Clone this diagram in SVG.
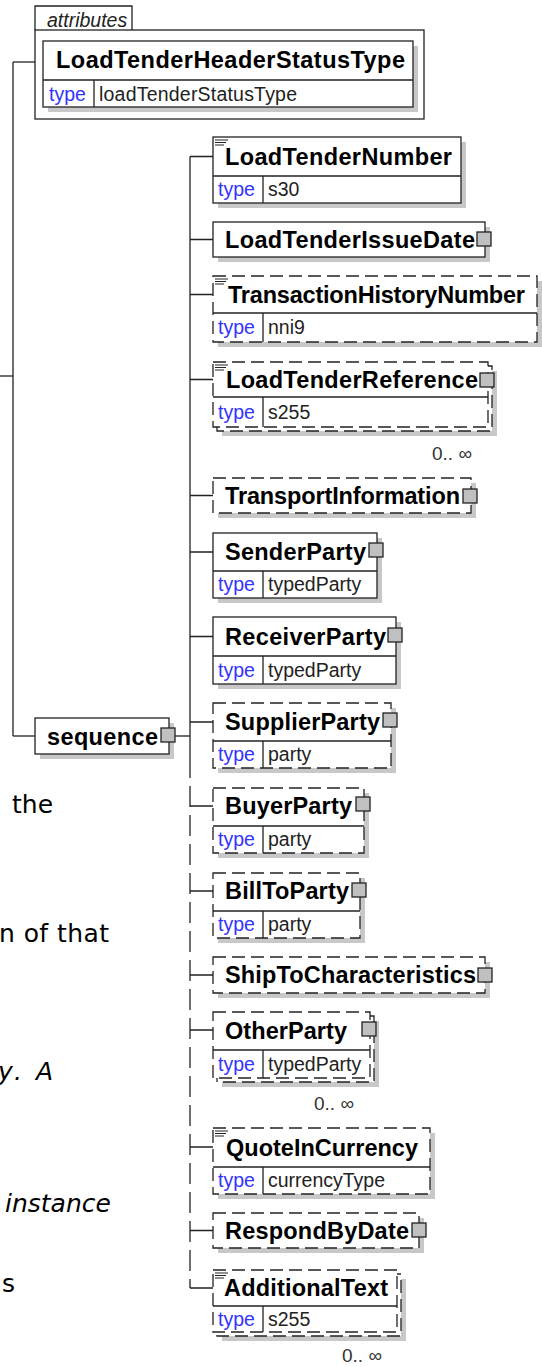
<svg xmlns="http://www.w3.org/2000/svg" width="542" height="1367" viewBox="0 0 542 1367">
<style>
.bx{fill:#fff;stroke:#222;stroke-width:1.3}
.d{stroke-dasharray:13 6}
.sh{fill:#c8c8c8}
.ln{stroke:#222;stroke-width:1.3;fill:none}
.ic{stroke:#222;stroke-width:1;fill:none}
.ex{fill:#c0c0c0;stroke:#222;stroke-width:1.3}
.nm{font-family:"Liberation Sans",Arial,sans-serif;font-weight:bold;font-size:23.5px;fill:#000}
.tk{font-family:"Liberation Sans",Arial,sans-serif;font-size:19.5px;fill:#3333ff}
.tv{font-family:"Liberation Sans",Arial,sans-serif;font-size:19.5px;fill:#222}
.oc{font-family:"Liberation Sans",Arial,sans-serif;font-size:19px;fill:#333}
.fr{font-family:"DejaVu Sans",Verdana,sans-serif;font-size:25px;fill:#000}
.it{font-style:italic}
</style>
<rect width="542" height="1367" fill="#fff"/>

<g id="fragments">
<text class="fr" x="12" y="813">the</text>
<text class="fr" x="-1" y="942" textLength="110" lengthAdjust="spacing">n of that</text>
<text class="fr it" x="-2" y="1080" textLength="55" lengthAdjust="spacing">y. A</text>
<text class="fr it" x="5" y="1212">instance</text>
<text class="fr" x="2" y="1292">s</text>
</g>

<g id="connectors">
<line class="ln" x1="0" y1="376" x2="13" y2="376"/>
<line class="ln" x1="13" y1="62" x2="13" y2="736"/>
<line class="ln" x1="13" y1="62" x2="35" y2="62"/>
<line class="ln" x1="13" y1="736" x2="35" y2="736"/>
<line class="ln" x1="175" y1="736" x2="190" y2="736"/>
<line class="ln" x1="190" y1="156.5" x2="190" y2="757"/>
<line class="ln" x1="190" y1="757" x2="190" y2="1288" stroke-dasharray="21 8"/>
<path class="ln" d="M190 156.5H213M190 239.5H213M190 294.5H213M190 379.5H213M190 495.5H213M190 552H213M190 636.5H213M190 722H213M190 806H213M190 891H213M190 975H213M190 1030H213M190 1147H213M190 1230.5H213M190 1288H213"/>
</g>

<g id="attributes">
<path class="bx" d="M35 30V6H132V30"/>
<rect class="bx" x="35" y="30" width="389" height="89"/>
<text class="tv it" x="47" y="27">attributes</text>
</g>

<g id="LoadTenderHeaderStatusType">
<rect class="sh" x="48" y="46" width="370" height="66"/>
<rect class="bx" x="43" y="41" width="370" height="66"/>
<line class="ln" x1="43" y1="80" x2="413" y2="80"/>
<line class="ln" x1="94" y1="80" x2="94" y2="107"/>
<text class="nm" x="56" y="68" textLength="349" lengthAdjust="spacing">LoadTenderHeaderStatusType</text>
<text class="tk" x="49" y="101">type</text>
<text class="tv" x="99" y="101" textLength="198" lengthAdjust="spacing">loadTenderStatusType</text>
</g>

<g id="sequence">
<rect class="sh" x="40" y="723" width="134" height="36"/>
<rect class="bx" x="35" y="718" width="134" height="36"/>
<text class="nm" x="47" y="745" textLength="111" lengthAdjust="spacing">sequence</text>
<rect class="ex" x="161" y="728" width="14" height="14"/>
</g>

<g id="LoadTenderNumber">
<rect class="sh" x="218" y="142" width="248" height="66"/>
<rect class="bx" x="213" y="137" width="248" height="66"/>
<line class="ln" x1="213" y1="176" x2="461" y2="176"/>
<line class="ln" x1="263" y1="176" x2="263" y2="203"/>
<path class="ic" d="M215 140h13M215 142.5h11M215 145h9"/>
<text class="nm" x="225" y="164.5" textLength="227" lengthAdjust="spacing">LoadTenderNumber</text>
<text class="tk" x="218" y="196">type</text>
<text class="tv" x="268" y="196">s30</text>
</g>

<g id="LoadTenderIssueDate">
<rect class="sh" x="218" y="227" width="272" height="35"/>
<rect class="bx" x="213" y="222" width="272" height="35"/>
<text class="nm" x="225" y="247.5" textLength="250" lengthAdjust="spacing">LoadTenderIssueDate</text>
<rect class="ex" x="477" y="232" width="14" height="14"/>
</g>

<g id="TransactionHistoryNumber">
<rect class="sh" x="218" y="281" width="324" height="66"/>
<rect class="bx d" x="213" y="276" width="324" height="66"/>
<line class="ln" x1="213" y1="313" x2="537" y2="313"/>
<line class="ln" x1="263" y1="313" x2="263" y2="342"/>
<path class="ic" d="M215 279h13M215 281.5h11M215 284h9"/>
<text class="nm" x="228" y="302.5" textLength="297" lengthAdjust="spacing">TransactionHistoryNumber</text>
<text class="tk" x="218" y="334">type</text>
<text class="tv" x="268" y="334">nni9</text>
</g>

<g id="LoadTenderReference">
<rect class="sh" x="222" y="371" width="275" height="65"/>
<rect class="bx d" x="217" y="366" width="275" height="65"/>
<rect class="bx d" x="213" y="362" width="275" height="65"/>
<line class="ln" x1="213" y1="397" x2="488" y2="397"/>
<line class="ln" x1="263" y1="397" x2="263" y2="427"/>
<path class="ic" d="M215 365h13M215 367.5h11M215 370h9"/>
<text class="nm" x="226" y="387.5" textLength="252" lengthAdjust="spacing">LoadTenderReference</text>
<rect class="ex" x="480" y="373" width="14" height="14"/>
<text class="tk" x="218" y="419">type</text>
<text class="tv" x="268" y="419">s255</text>
<text class="oc" x="432" y="460">0.. ∞</text>
</g>

<g id="TransportInformation">
<rect class="sh" x="218" y="483" width="258" height="35"/>
<rect class="bx d" x="213" y="478" width="258" height="35"/>
<text class="nm" x="225" y="503.5" textLength="235" lengthAdjust="spacing">TransportInformation</text>
<rect class="ex" x="463" y="489" width="14" height="14"/>
</g>

<g id="SenderParty">
<rect class="sh" x="218" y="538" width="164" height="65"/>
<rect class="bx" x="213" y="533" width="164" height="65"/>
<line class="ln" x1="213" y1="571" x2="377" y2="571"/>
<line class="ln" x1="263" y1="571" x2="263" y2="598"/>
<text class="nm" x="225" y="560" textLength="141" lengthAdjust="spacing">SenderParty</text>
<rect class="ex" x="369" y="543" width="14" height="14"/>
<text class="tk" x="218" y="591">type</text>
<text class="tv" x="268" y="591">typedParty</text>
</g>

<g id="ReceiverParty">
<rect class="sh" x="218" y="622" width="183" height="67"/>
<rect class="bx" x="213" y="617" width="183" height="67"/>
<line class="ln" x1="213" y1="656" x2="396" y2="656"/>
<line class="ln" x1="263" y1="656" x2="263" y2="684"/>
<text class="nm" x="225" y="644.5" textLength="161" lengthAdjust="spacing">ReceiverParty</text>
<rect class="ex" x="388" y="628" width="14" height="14"/>
<text class="tk" x="218" y="677">type</text>
<text class="tv" x="268" y="677">typedParty</text>
</g>

<g id="SupplierParty">
<rect class="sh" x="218" y="708" width="178" height="65"/>
<rect class="bx d" x="213" y="703" width="178" height="65"/>
<line class="ln" x1="213" y1="741" x2="391" y2="741"/>
<line class="ln" x1="263" y1="741" x2="263" y2="768"/>
<text class="nm" x="225" y="730" textLength="155" lengthAdjust="spacing">SupplierParty</text>
<rect class="ex" x="383" y="713" width="14" height="14"/>
<text class="tk" x="218" y="761">type</text>
<text class="tv" x="268" y="761">party</text>
</g>

<g id="BuyerParty">
<rect class="sh" x="218" y="793" width="151" height="65"/>
<rect class="bx d" x="213" y="788" width="151" height="65"/>
<line class="ln" x1="213" y1="826" x2="364" y2="826"/>
<line class="ln" x1="263" y1="826" x2="263" y2="853"/>
<text class="nm" x="225" y="814" textLength="127" lengthAdjust="spacing">BuyerParty</text>
<rect class="ex" x="356" y="797" width="14" height="14"/>
<text class="tk" x="218" y="846">type</text>
<text class="tv" x="268" y="846">party</text>
</g>

<g id="BillToParty">
<rect class="sh" x="218" y="878" width="147" height="65"/>
<rect class="bx d" x="213" y="873" width="147" height="65"/>
<line class="ln" x1="213" y1="911" x2="360" y2="911"/>
<line class="ln" x1="263" y1="911" x2="263" y2="938"/>
<text class="nm" x="225" y="899" textLength="124" lengthAdjust="spacing">BillToParty</text>
<rect class="ex" x="352" y="883" width="14" height="14"/>
<text class="tk" x="218" y="931">type</text>
<text class="tv" x="268" y="931">party</text>
</g>

<g id="ShipToCharacteristics">
<rect class="sh" x="218" y="962" width="272" height="36"/>
<rect class="bx d" x="213" y="957" width="272" height="36"/>
<text class="nm" x="225" y="983" textLength="251" lengthAdjust="spacing">ShipToCharacteristics</text>
<rect class="ex" x="478" y="968" width="14" height="14"/>
</g>

<g id="OtherParty">
<rect class="sh" x="222" y="1021" width="157" height="66"/>
<rect class="bx d" x="217" y="1016" width="157" height="66"/>
<rect class="bx d" x="213" y="1012" width="157" height="66"/>
<line class="ln" x1="213" y1="1050" x2="370" y2="1050"/>
<line class="ln" x1="263" y1="1050" x2="263" y2="1078"/>
<text class="nm" x="225" y="1039" textLength="122" lengthAdjust="spacing">OtherParty</text>
<rect class="ex" x="362" y="1022" width="14" height="14"/>
<text class="tk" x="218" y="1071">type</text>
<text class="tv" x="268" y="1071">typedParty</text>
<text class="oc" x="314" y="1110">0.. ∞</text>
</g>

<g id="QuoteInCurrency">
<rect class="sh" x="218" y="1133" width="217" height="66"/>
<rect class="bx d" x="213" y="1128" width="217" height="66"/>
<line class="ln" x1="213" y1="1167" x2="430" y2="1167"/>
<line class="ln" x1="263" y1="1167" x2="263" y2="1194"/>
<path class="ic" d="M215 1131h13M215 1133.5h11M215 1136h9"/>
<text class="nm" x="226" y="1155.5" textLength="192" lengthAdjust="spacing">QuoteInCurrency</text>
<text class="tk" x="218" y="1187">type</text>
<text class="tv" x="268" y="1187">currencyType</text>
</g>

<g id="RespondByDate">
<rect class="sh" x="218" y="1218" width="206" height="35"/>
<rect class="bx d" x="213" y="1213" width="206" height="35"/>
<text class="nm" x="225" y="1238.5" textLength="184" lengthAdjust="spacing">RespondByDate</text>
<rect class="ex" x="412" y="1223" width="14" height="14"/>
</g>

<g id="AdditionalText">
<rect class="sh" x="222" y="1279" width="184" height="62"/>
<rect class="bx d" x="217" y="1274" width="184" height="62"/>
<rect class="bx d" x="213" y="1270" width="184" height="62"/>
<line class="ln" x1="213" y1="1306" x2="397" y2="1306"/>
<line class="ln" x1="263" y1="1306" x2="263" y2="1332"/>
<path class="ic" d="M215 1273h13M215 1275.5h11M215 1278h9"/>
<text class="nm" x="224" y="1296" textLength="164" lengthAdjust="spacing">AdditionalText</text>
<text class="tk" x="218" y="1326">type</text>
<text class="tv" x="268" y="1326">s255</text>
<text class="oc" x="342" y="1362">0.. ∞</text>
</g>
</svg>
